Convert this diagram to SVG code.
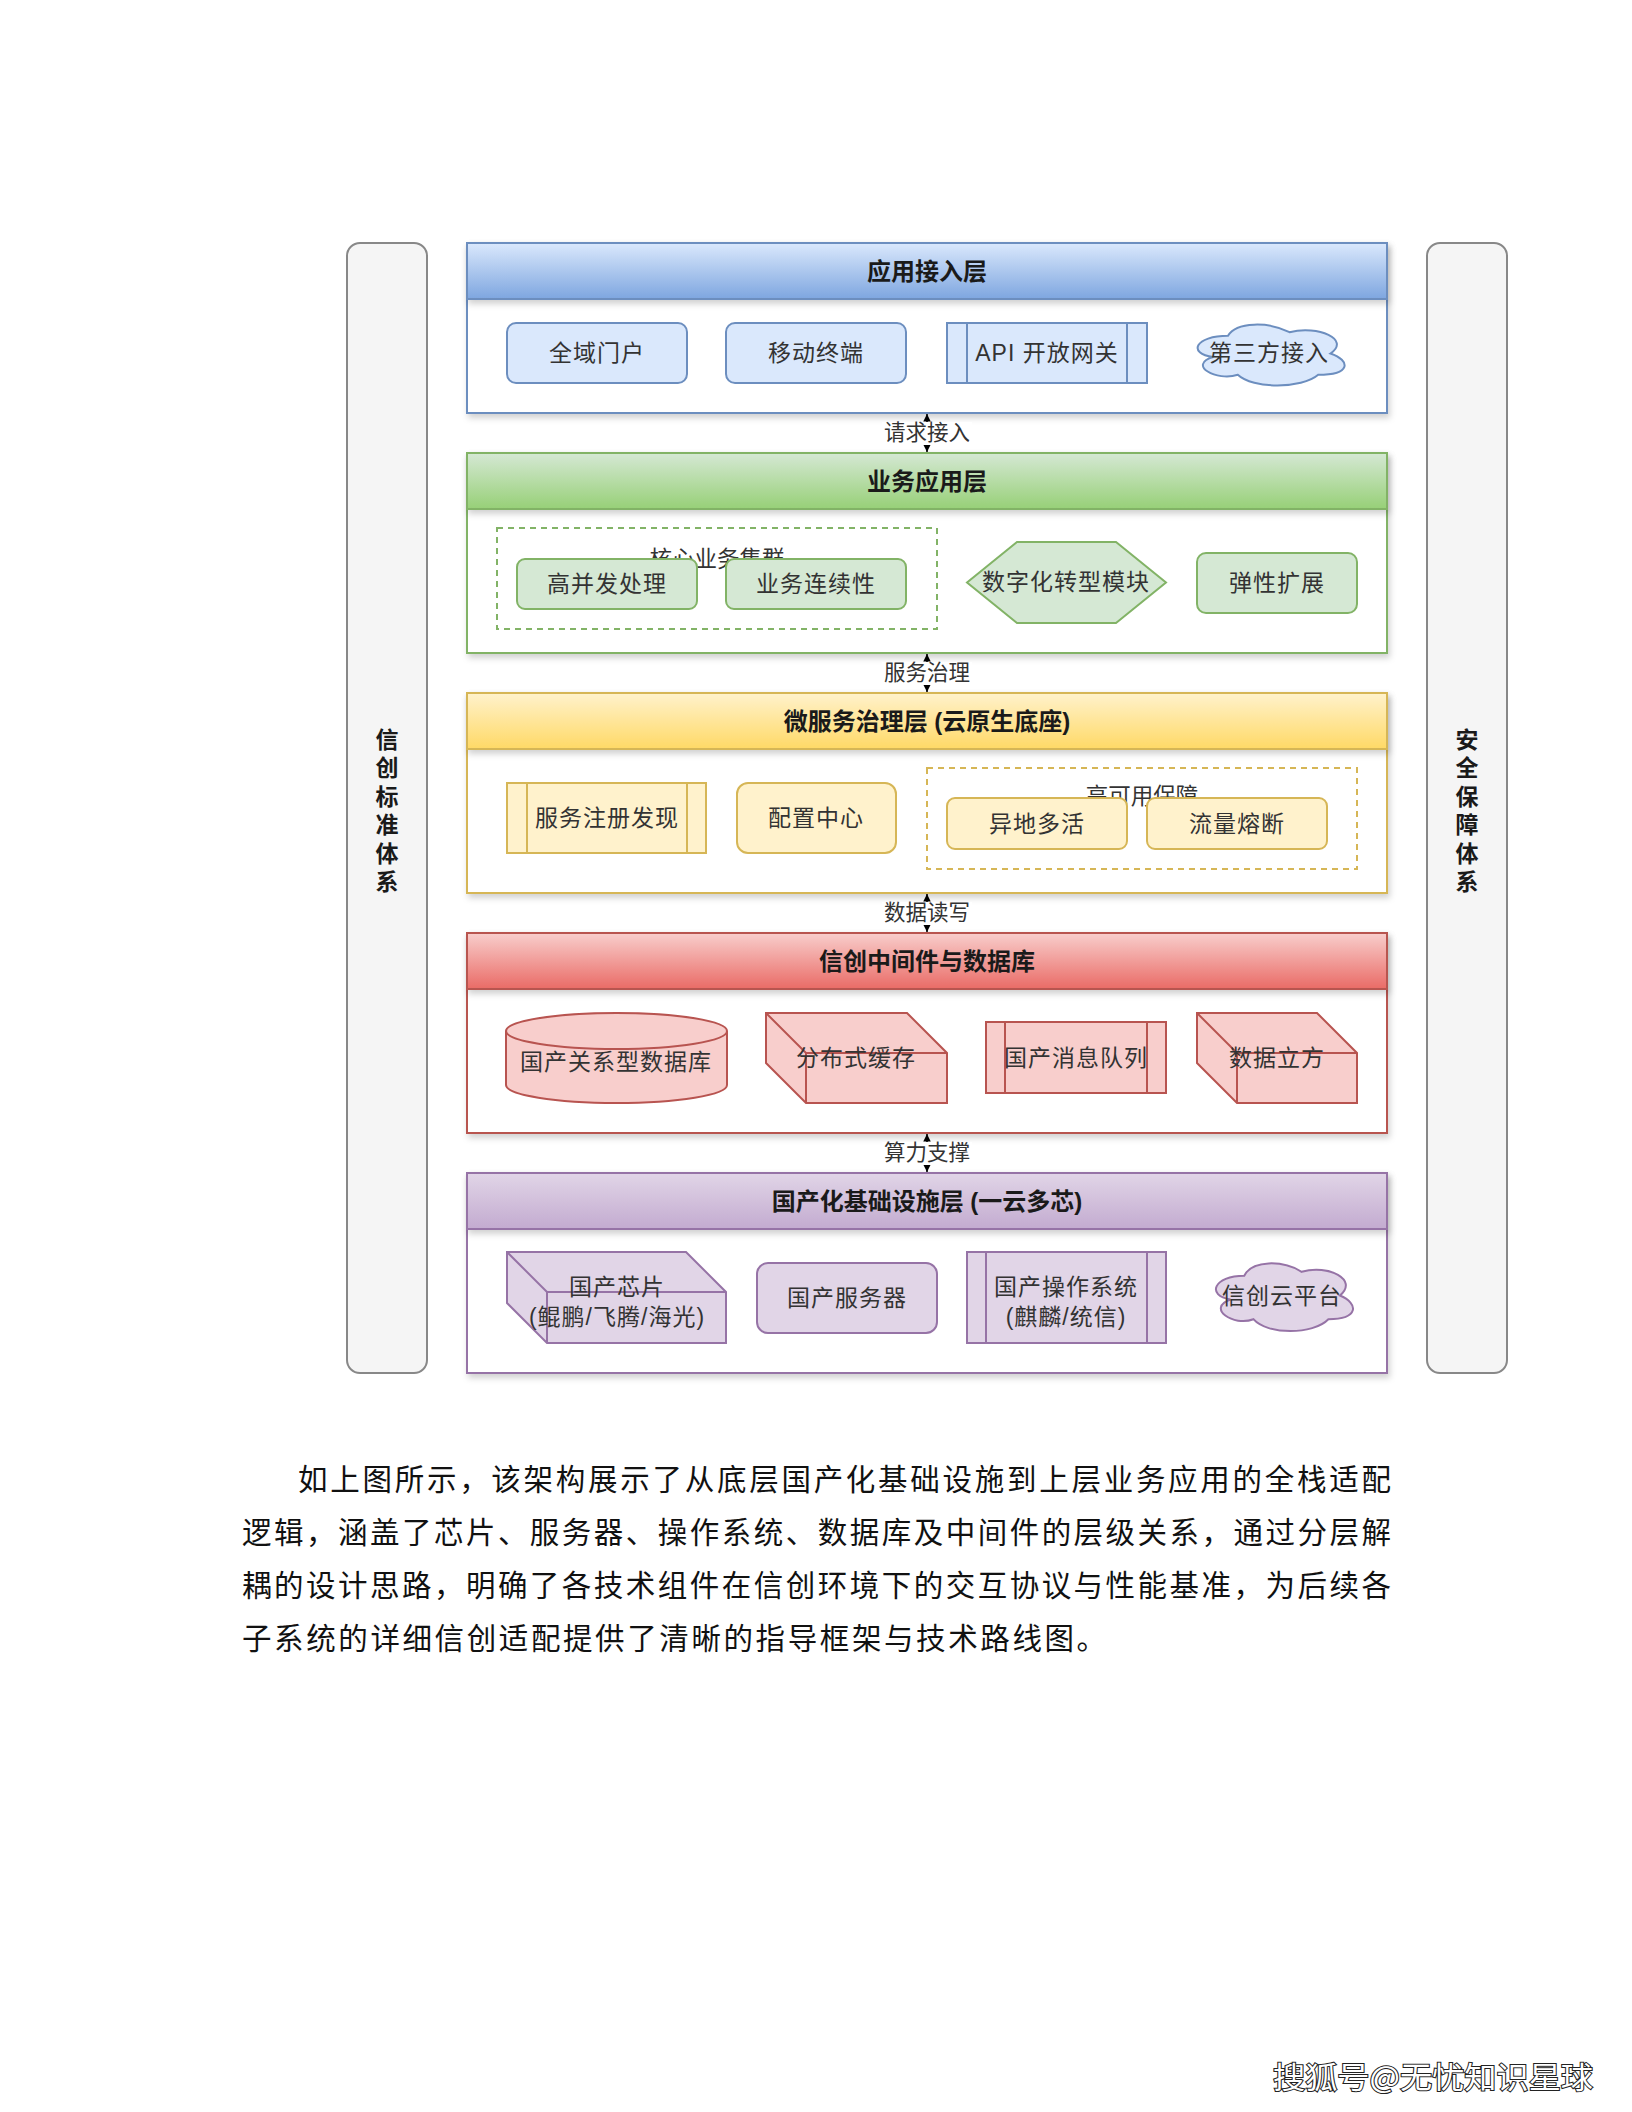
<svg xmlns="http://www.w3.org/2000/svg" width="1632" height="2112" viewBox="0 0 1632 2112">
<defs>
<style>
text{font-family:"Liberation Sans","Noto Sans CJK SC",sans-serif;}
.t{font-size:23px;fill:#333;text-anchor:middle;dominant-baseline:central;letter-spacing:1px}
.h{font-size:24px;font-weight:bold;fill:#1a1a1a;text-anchor:middle;dominant-baseline:central}
.lbl{font-size:21.5px;fill:#333;text-anchor:middle;dominant-baseline:central}
.grp{font-size:22.5px;fill:#333;text-anchor:middle}
.side{font-size:23px;font-weight:bold;fill:#1a1a1a;text-anchor:middle;dominant-baseline:central}
.para{font-family:"Liberation Serif","Noto Sans CJK SC",serif;font-size:29.5px;fill:#111}
.bar{fill:#f5f5f5;stroke:#888;stroke-width:2}
.body{fill:#fff;stroke-width:2}
.hdr{stroke-width:2}
.cB{fill:#dae8fc;stroke:#6c8ebf;stroke-width:2}
.cG{fill:#d5e8d4;stroke:#82b366;stroke-width:2}
.cY{fill:#fff2cc;stroke:#d6b656;stroke-width:2}
.cR{fill:#f8cecc;stroke:#b85450;stroke-width:2}
.cP{fill:#e1d5e7;stroke:#9673a6;stroke-width:2}
.ln{fill:none;stroke-width:2}
.dash{fill:none;stroke-width:2;stroke-dasharray:6 5}
.conn{stroke:#000;stroke-width:1.5;fill:none}
</style>
<linearGradient id="gB" x1="0" y1="0" x2="0" y2="1"><stop offset="0" stop-color="#dae8fc"/><stop offset="1" stop-color="#7ea6e0"/></linearGradient>
<linearGradient id="gG" x1="0" y1="0" x2="0" y2="1"><stop offset="0" stop-color="#d5e8d4"/><stop offset="1" stop-color="#97d077"/></linearGradient>
<linearGradient id="gY" x1="0" y1="0" x2="0" y2="1"><stop offset="0" stop-color="#fff2cc"/><stop offset="1" stop-color="#ffd966"/></linearGradient>
<linearGradient id="gR" x1="0" y1="0" x2="0" y2="1"><stop offset="0" stop-color="#f8cecc"/><stop offset="1" stop-color="#ea6b66"/></linearGradient>
<linearGradient id="gP" x1="0" y1="0" x2="0" y2="1"><stop offset="0" stop-color="#e1d5e7"/><stop offset="1" stop-color="#c3abd0"/></linearGradient>
<filter id="sh" x="-5%" y="-10%" width="110%" height="130%"><feDropShadow dx="2" dy="4" stdDeviation="3" flood-color="#000" flood-opacity="0.18"/></filter>
<marker id="arr" viewBox="0 0 10 10" refX="10" refY="5" markerWidth="5" markerHeight="5" orient="auto-start-reverse"><path d="M0,0 L10,5 L0,10 Z" fill="#000"/></marker>
</defs>
<rect width="1632" height="2112" fill="#fff"/>

<g id="side-left">
<rect class="bar" x="347" y="243" width="80" height="1130" rx="13"/>
<text class="side"><tspan x="387" y="740">信</tspan><tspan x="387" y="768">创</tspan><tspan x="387" y="797">标</tspan><tspan x="387" y="825">准</tspan><tspan x="387" y="854">体</tspan><tspan x="387" y="882">系</tspan></text>
</g>
<g id="side-right">
<rect class="bar" x="1427" y="243" width="80" height="1130" rx="13"/>
<text class="side"><tspan x="1467" y="740">安</tspan><tspan x="1467" y="768">全</tspan><tspan x="1467" y="797">保</tspan><tspan x="1467" y="825">障</tspan><tspan x="1467" y="854">体</tspan><tspan x="1467" y="882">系</tspan></text>
</g>

<g id="layer-access">
<rect class="body" x="467" y="243" width="920" height="170" stroke="#6c8ebf" filter="url(#sh)"/>
<rect class="hdr" x="467" y="243" width="920" height="56" fill="url(#gB)" stroke="#6c8ebf" filter="url(#sh)"/>
<text class="h" x="927" y="271">应用接入层</text>
</g>
<g id="n-portal"><rect class="cB" x="507" y="323" width="180" height="60" rx="9"/><text class="t" x="597" y="353">全域门户</text></g>
<g id="n-mobile"><rect class="cB" x="726" y="323" width="180" height="60" rx="9"/><text class="t" x="816" y="353">移动终端</text></g>
<g id="n-api"><rect class="cB" x="947" y="323" width="200" height="60"/><path class="ln" stroke="#6c8ebf" d="M967,323V383M1127,323V383"/><text class="t" x="1047" y="353">API 开放网关</text></g>
<g id="n-third"><path class="cB" d="M1228,335.75 C1195.2,335.75 1187,353.5 1213.2,357.05 C1187,364.86 1216.5,381.9 1237.8,374.8 C1252.6,389 1301.8,389 1318.2,374.8 C1351,374.8 1351,360.6 1330.5,353.5 C1351,339.3 1318.2,325.1 1289.5,332.2 C1269,321.55 1236.2,321.55 1228,335.75 Z"/><text class="t" x="1269" y="353">第三方接入</text></g>

<g id="layer-business">
<rect class="body" x="467" y="453" width="920" height="200" stroke="#82b366" filter="url(#sh)"/>
<rect class="hdr" x="467" y="453" width="920" height="56" fill="url(#gG)" stroke="#82b366" filter="url(#sh)"/>
<text class="h" x="927" y="481">业务应用层</text>
</g>
<g id="grp-core">
<rect class="dash" x="497" y="528" width="440" height="101" stroke="#82b366"/>
<text class="grp" x="717" y="567">核心业务集群</text>
</g>
<g id="n-hc"><rect class="cG" x="517" y="559" width="180" height="50" rx="8"/><text class="t" x="607" y="584">高并发处理</text></g>
<g id="n-bc"><rect class="cG" x="726" y="559" width="180" height="50" rx="8"/><text class="t" x="816" y="584">业务连续性</text></g>
<g id="n-digital"><polygon class="cG" points="967,582.5 1017,542 1116,542 1166,582.5 1116,623 1017,623"/><text class="t" x="1066" y="582">数字化转型模块</text></g>
<g id="n-elastic"><rect class="cG" x="1197" y="553" width="160" height="60" rx="9"/><text class="t" x="1277" y="583">弹性扩展</text></g>

<g id="layer-micro">
<rect class="body" x="467" y="693" width="920" height="200" stroke="#d6b656" filter="url(#sh)"/>
<rect class="hdr" x="467" y="693" width="920" height="56" fill="url(#gY)" stroke="#d6b656" filter="url(#sh)"/>
<text class="h" x="927" y="721">微服务治理层 (云原生底座)</text>
</g>
<g id="n-registry"><rect class="cY" x="507" y="783" width="199" height="70"/><path class="ln" stroke="#d6b656" d="M527,783V853M687,783V853"/><text class="t" x="607" y="818">服务注册发现</text></g>
<g id="n-config"><rect class="cY" x="737" y="783" width="159" height="70" rx="11"/><text class="t" x="816" y="818">配置中心</text></g>
<g id="grp-ha">
<rect class="dash" x="927" y="768" width="430" height="101" stroke="#d6b656"/>
<text class="grp" x="1142" y="804">高可用保障</text>
</g>
<g id="n-active"><rect class="cY" x="947" y="798" width="180" height="51" rx="8"/><text class="t" x="1037" y="824">异地多活</text></g>
<g id="n-breaker"><rect class="cY" x="1147" y="798" width="180" height="51" rx="8"/><text class="t" x="1237" y="824">流量熔断</text></g>

<g id="layer-middleware">
<rect class="body" x="467" y="933" width="920" height="200" stroke="#b85450" filter="url(#sh)"/>
<rect class="hdr" x="467" y="933" width="920" height="56" fill="url(#gR)" stroke="#b85450" filter="url(#sh)"/>
<text class="h" x="927" y="961">信创中间件与数据库</text>
</g>
<g id="n-rdb"><path class="cR" d="M506,1031 A110.5,18 0 0 1 727,1031 V1085 A110.5,18 0 0 1 506,1085 Z"/><path class="ln" stroke="#b85450" d="M506,1031 A110.5,18 0 0 0 727,1031"/><text class="t" x="616" y="1062">国产关系型数据库</text></g>
<g id="n-cache"><polygon class="cR" points="766,1013 907,1013 947,1053 947,1103 806,1103 766,1063"/><path class="ln" stroke="#b85450" d="M766,1013L806,1053H947M806,1053V1103"/><text class="t" x="856" y="1058">分布式缓存</text></g>
<g id="n-mq"><rect class="cR" x="986" y="1022" width="180" height="71"/><path class="ln" stroke="#b85450" d="M1005,1022V1093M1147,1022V1093"/><text class="t" x="1076" y="1058">国产消息队列</text></g>
<g id="n-cube"><polygon class="cR" points="1197,1013 1317,1013 1357,1053 1357,1103 1237,1103 1197,1063"/><path class="ln" stroke="#b85450" d="M1197,1013L1237,1053H1357M1237,1053V1103"/><text class="t" x="1277" y="1058">数据立方</text></g>

<g id="layer-infra">
<rect class="body" x="467" y="1173" width="920" height="200" stroke="#9673a6" filter="url(#sh)"/>
<rect class="hdr" x="467" y="1173" width="920" height="56" fill="url(#gP)" stroke="#9673a6" filter="url(#sh)"/>
<text class="h" x="927" y="1201">国产化基础设施层 (一云多芯)</text>
</g>
<g id="n-chip"><polygon class="cP" points="507,1252 686,1252 726,1292 726,1343 547,1343 507,1303"/><path class="ln" stroke="#9673a6" d="M507,1252L547,1292H726M547,1292V1343"/><text class="t" x="617" y="1287">国产芯片</text><text class="t" x="617" y="1317">(鲲鹏/飞腾/海光)</text></g>
<g id="n-server"><rect class="cP" x="757" y="1263" width="180" height="70" rx="11"/><text class="t" x="847" y="1298">国产服务器</text></g>
<g id="n-os"><rect class="cP" x="967" y="1252" width="199" height="91"/><path class="ln" stroke="#9673a6" d="M986,1252V1343M1147,1252V1343"/><text class="t" x="1066" y="1287">国产操作系统</text><text class="t" x="1066" y="1317">(麒麟/统信)</text></g>
<g id="n-cloud"><path class="cP" d="M1244.25,1275.75 C1213.65,1275.75 1206,1295.5 1230.48,1299.45 C1206,1308.14 1233.54,1327.1 1253.43,1319.2 C1267.2,1335 1313.1,1335 1328.4,1319.2 C1359,1319.2 1359,1303.4 1339.9,1295.5 C1359,1279.7 1328.4,1263.9 1301.6,1271.8 C1282.5,1259.95 1251.9,1259.95 1244.25,1275.75 Z"/><text class="t" x="1282" y="1296">信创云平台</text></g>

<g id="connectors">
<line class="conn" x1="927" y1="414" x2="927" y2="452" marker-start="url(#arr)" marker-end="url(#arr)"/>
<rect x="882" y="422" width="90" height="23" fill="#fff"/>
<text class="lbl" x="927" y="433">请求接入</text>
<line class="conn" x1="927" y1="654" x2="927" y2="692" marker-start="url(#arr)" marker-end="url(#arr)"/>
<rect x="882" y="662" width="90" height="23" fill="#fff"/>
<text class="lbl" x="927" y="673">服务治理</text>
<line class="conn" x1="927" y1="894" x2="927" y2="932" marker-start="url(#arr)" marker-end="url(#arr)"/>
<rect x="882" y="902" width="90" height="23" fill="#fff"/>
<text class="lbl" x="927" y="913">数据读写</text>
<line class="conn" x1="927" y1="1134" x2="927" y2="1172" marker-start="url(#arr)" marker-end="url(#arr)"/>
<rect x="882" y="1142" width="90" height="23" fill="#fff"/>
<text class="lbl" x="927" y="1153">算力支撑</text>
</g>

<g id="paragraph">
<text class="para" x="298" y="1490" textLength="1093" lengthAdjust="spacing">如上图所示，该架构展示了从底层国产化基础设施到上层业务应用的全栈适配</text>
<text class="para" x="242" y="1543" textLength="1149" lengthAdjust="spacing">逻辑，涵盖了芯片、服务器、操作系统、数据库及中间件的层级关系，通过分层解</text>
<text class="para" x="242" y="1596" textLength="1149" lengthAdjust="spacing">耦的设计思路，明确了各技术组件在信创环境下的交互协议与性能基准，为后续各</text>
<text class="para" x="242" y="1649" style="letter-spacing:2.6px">子系统的详细信创适配提供了清晰的指导框架与技术路线图。</text>
</g>

<g id="source-mark">
<text x="1273" y="2088" textLength="320" lengthAdjust="spacingAndGlyphs" style="font-family:'Noto Sans CJK SC',sans-serif;font-size:30px;fill:#fff;stroke:#222;stroke-width:2;paint-order:stroke">搜狐号@无忧知识星球</text>
</g>
</svg>
